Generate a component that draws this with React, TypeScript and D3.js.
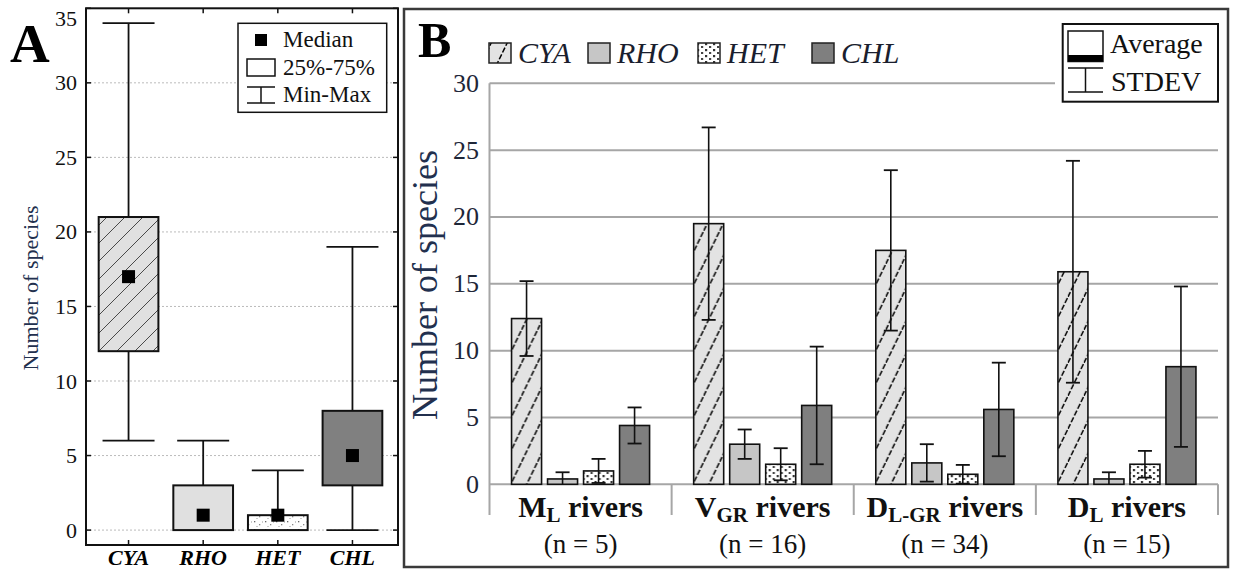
import React from "react";
import * as d3 from "d3";

// panel A: box plot of species numbers
const boxCats = ["CYA", "RHO", "HET", "CHL"];
const boxMin = [6, 0, 0, 0];
const boxQ1 = [12, 0, 0, 3];
const boxMedian = [17, 1, 1, 5];
const boxQ3 = [21, 3, 1, 8];
const boxMax = [34, 6, 4, 19];
const boxTicks = [0, 5, 10, 15, 20, 25, 30, 35];

// panel B: averages and standard deviations per river group
const riverMain = ["M", "V", "D", "D"];
const riverSub = ["L", "GR", "L-GR", "L"];
const riverN = [5, 16, 34, 15];
const series = ["CYA", "RHO", "HET", "CHL"];
const avgCYA = [12.4, 19.5, 17.5, 15.9];
const sdCYA = [2.8, 7.2, 6.0, 8.3];
const avgRHO = [0.4, 3.0, 1.6, 0.4];
const sdRHO = [0.5, 1.1, 1.4, 0.5];
const avgHET = [1.0, 1.5, 0.75, 1.5];
const sdHET = [0.9, 1.2, 0.7, 1.0];
const avgCHL = [4.4, 5.9, 5.6, 8.8];
const sdCHL = [1.35, 4.4, 3.5, 6.0];
const barTicks = [0, 5, 10, 15, 20, 25, 30];

const serif = "Liberation Serif, Times New Roman, serif";
const navy = "#22304e";

const boxFill = ["url(#hatchA)", "#e0e0e0", "url(#speckA)", "#808080"];
const barFill = ["url(#hatchB)", "#c6c6c6", "url(#dotsB)", "#7f7f7f"];

export default function App() {
  // ---- panel A scales
  const frameA = { left: 86, right: 398, top: 8.3, bottom: 545 };
  const yA = d3.scaleLinear().domain([-1, 35]).range([frameA.bottom, frameA.top]);
  const xA = d3
    .scaleBand()
    .domain(boxCats)
    .range([frameA.left, 395])
    .paddingInner(0.2)
    .paddingOuter(0.17);
  const capA = 52;
  const medA = 13;

  // ---- panel B scales
  const plotB = { left: 489.5, right: 1218, top: 83.3, bottom: 484.3, axisEnd: 515 };
  const yB = d3.scaleLinear().domain([0, 30]).range([plotB.bottom, plotB.top]);
  const groups = riverMain.map((_, i) => i);
  const x0 = d3.scaleBand<number>().domain(groups).range([plotB.left, plotB.right]);
  const x1 = d3
    .scaleBand()
    .domain(series)
    .range([0, x0.bandwidth()])
    .paddingInner(1 / 6)
    .paddingOuter(0.6125);
  const avg = [avgCYA, avgRHO, avgHET, avgCHL];
  const sd = [sdCYA, sdRHO, sdHET, sdCHL];
  const capB = 14;

  const legendX = [489, 588, 698, 812];

  return (
    <svg
      width={1235}
      height={571}
      style={{ position: "absolute", left: 0, top: 0, background: "#fff", fontFamily: serif }}
    >
      <defs>
        <pattern id="hatchA" patternUnits="userSpaceOnUse" width={18} height={18}>
          <rect width={18} height={18} fill="#e0e0e0" />
          <path d="M0,18 L18,0 M-4.5,4.5 L4.5,-4.5 M13.5,22.5 L22.5,13.5" stroke="#222" strokeWidth={0.8} />
        </pattern>
        <pattern id="speckA" patternUnits="userSpaceOnUse" width={11} height={8}>
          <rect width={11} height={8} fill="#fff" />
          <rect x={1} y={1} width={1.3} height={1.3} fill="#666" />
          <rect x={6} y={4} width={1.3} height={1.3} fill="#888" />
          <rect x={9} y={1.5} width={1} height={1} fill="#999" />
          <rect x={3.5} y={6} width={1} height={1} fill="#999" />
        </pattern>
        <pattern id="hatchB" patternUnits="userSpaceOnUse" width={16} height={33}>
          <rect width={16} height={33} fill="#e3e3e3" />
          <path d="M0,33 L16,0" stroke="#000" strokeWidth={1.5} strokeDasharray="5.5 2" />
        </pattern>
        <pattern id="dotsB" patternUnits="userSpaceOnUse" width={8} height={6}>
          <rect width={8} height={6} fill="#fff" />
          <rect x={1} y={1} width={2.2} height={2.2} fill="#333" />
          <rect x={5} y={4} width={2.2} height={2.2} fill="#444" />
        </pattern>
      </defs>

      {/* ================= PANEL A ================= */}
      <text x={10} y={62} fontSize={55} fontWeight="bold" fill="#000">A</text>

      {boxTicks.slice(0, -1).map((t) => (
        <line key={t} x1={frameA.left} x2={frameA.right} y1={yA(t)} y2={yA(t)}
          stroke="#bbb" strokeWidth={1} strokeDasharray="2 2" />
      ))}
      {boxTicks.map((t) => (
        <g key={t}>
          <text x={77} y={Math.max(yA(t), 18)} textAnchor="end" dominantBaseline="central" fontSize={22} fill="#111">{t}</text>
          <line x1={frameA.left} x2={frameA.left + 5} y1={yA(t)} y2={yA(t)} stroke="#111" strokeWidth={1.5} />
          <line x1={frameA.right - 5} x2={frameA.right} y1={yA(t)} y2={yA(t)} stroke="#111" strokeWidth={1.5} />
        </g>
      ))}
      {boxCats.map((c) => {
        const cx = xA(c)! + xA.bandwidth() / 2;
        return (
          <g key={c}>
            <line x1={cx} x2={cx} y1={frameA.top} y2={frameA.top + 5} stroke="#111" strokeWidth={1.5} />
            <line x1={cx} x2={cx} y1={frameA.bottom - 5} y2={frameA.bottom} stroke="#111" strokeWidth={1.5} />
            <text x={cx} y={565} textAnchor="middle" fontSize={22} fontWeight="bold" fontStyle="italic" fill="#000">{c}</text>
          </g>
        );
      })}

      {boxCats.map((c, i) => {
        const bx = xA(c)!;
        const bw = xA.bandwidth();
        const cx = bx + bw / 2;
        return (
          <g key={c}>
            <line x1={cx} x2={cx} y1={yA(boxMax[i])} y2={yA(boxQ3[i])} stroke="#111" strokeWidth={1.8} />
            <line x1={cx} x2={cx} y1={yA(boxQ1[i])} y2={yA(boxMin[i])} stroke="#111" strokeWidth={1.8} />
            <line x1={cx - capA / 2} x2={cx + capA / 2} y1={yA(boxMax[i])} y2={yA(boxMax[i])} stroke="#111" strokeWidth={1.8} />
            <line x1={cx - capA / 2} x2={cx + capA / 2} y1={yA(boxMin[i])} y2={yA(boxMin[i])} stroke="#111" strokeWidth={1.8} />
            <rect x={bx} y={yA(boxQ3[i])} width={bw} height={yA(boxQ1[i]) - yA(boxQ3[i])}
              fill={boxFill[i]} stroke="#111" strokeWidth={2} />
            <rect x={cx - medA / 2} y={yA(boxMedian[i]) - medA / 2} width={medA} height={medA} fill="#000" />
          </g>
        );
      })}

      <rect x={frameA.left} y={frameA.top} width={frameA.right - frameA.left} height={frameA.bottom - frameA.top}
        fill="none" stroke="#111" strokeWidth={2} />

      <text transform="translate(38,288) rotate(-90)" textAnchor="middle" fontSize={22} fill={navy}>
        Number of species
      </text>

      {/* legend A */}
      <g>
        <rect x={238} y={23.3} width={148.7} height={89} fill="#fff" stroke="#111" strokeWidth={1.5} />
        <rect x={255} y={34} width={12} height={12} fill="#000" />
        <text x={283} y={47} fontSize={23} fill="#111">Median</text>
        <rect x={247} y={59} width={28} height={17} fill="#fff" stroke="#111" strokeWidth={1.5} />
        <text x={283} y={75} fontSize={23} fill="#111">25%-75%</text>
        <line x1={247} x2={275} y1={87} y2={87} stroke="#111" strokeWidth={1.5} />
        <line x1={247} x2={275} y1={103} y2={103} stroke="#111" strokeWidth={1.5} />
        <line x1={261} x2={261} y1={87} y2={103} stroke="#111" strokeWidth={1.5} />
        <text x={283} y={102} fontSize={23} fill="#111">Min-Max</text>
      </g>

      {/* ================= PANEL B ================= */}
      <rect x={404} y={9} width={824} height={558} fill="none" stroke="#3a3a3a" strokeWidth={2.5} />
      <text x={418} y={57} fontSize={50} fontWeight="bold" fill="#000">B</text>

      {barTicks.map((t) => (
        <g key={t}>
          <line x1={plotB.left} x2={plotB.right} y1={yB(t)} y2={yB(t)} stroke="#a6a6a6" strokeWidth={2} />
          <text x={479} y={yB(t)} textAnchor="end" dominantBaseline="central" fontSize={26} fill="#1e2638">{t}</text>
        </g>
      ))}
      <line x1={plotB.left} x2={plotB.left} y1={plotB.top} y2={plotB.axisEnd} stroke="#a6a6a6" strokeWidth={2} />
      {groups.map((g) => (
        <line key={g} x1={x0(g)! + x0.bandwidth()} x2={x0(g)! + x0.bandwidth()}
          y1={plotB.bottom} y2={plotB.axisEnd} stroke="#a6a6a6" strokeWidth={2} />
      ))}

      {groups.map((g) => (
        <g key={g} transform={`translate(${x0(g)},0)`}>
          {series.map((s, k) => {
            const v = avg[k][g];
            const e = sd[k][g];
            const bx = x1(s)!;
            const cx = bx + x1.bandwidth() / 2;
            const lo = Math.max(0, v - e);
            const hi = v + e;
            return (
              <g key={s}>
                <rect x={bx} y={yB(v)} width={x1.bandwidth()} height={yB(0) - yB(v)}
                  fill={barFill[k]} stroke="#111" strokeWidth={1.6} />
                <line x1={cx} x2={cx} y1={yB(hi)} y2={yB(lo)} stroke="#111" strokeWidth={1.6} />
                <line x1={cx - capB / 2} x2={cx + capB / 2} y1={yB(hi)} y2={yB(hi)} stroke="#111" strokeWidth={1.8} />
                {lo > 0 && (
                  <line x1={cx - capB / 2} x2={cx + capB / 2} y1={yB(lo)} y2={yB(lo)} stroke="#111" strokeWidth={1.8} />
                )}
              </g>
            );
          })}
        </g>
      ))}

      {groups.map((g) => {
        const cx = x0(g)! + x0.bandwidth() / 2;
        return (
          <g key={g}>
            <text x={cx} y={517} textAnchor="middle" fontSize={30} fontWeight="bold" fill="#111">
              {riverMain[g]}
              <tspan fontSize={21} dy={5}>{riverSub[g]}</tspan>
              <tspan dy={-5}>{" rivers"}</tspan>
            </text>
            <text x={cx} y={553} textAnchor="middle" fontSize={27} fill="#111">
              {`(n = ${riverN[g]})`}
            </text>
          </g>
        );
      })}

      <text transform="translate(437,285) rotate(-90)" textAnchor="middle" fontSize={36} fill={navy}>
        Number of species
      </text>

      {/* series legend */}
      {series.map((s, k) => (
        <g key={s}>
          <rect x={legendX[k]} y={43} width={22} height={20} fill={barFill[k]} stroke="#222" strokeWidth={1.5} />
          <text x={legendX[k] + 29} y={63} fontSize={30} fontStyle="italic" fill="#1a1e2e">{s}</text>
        </g>
      ))}

      {/* average / stdev legend */}
      <rect x={1055} y={18} width={170} height={88} fill="#fff" />
      <rect x={1062.7} y={24} width={155.3} height={77.7} fill="#fff" stroke="#111" strokeWidth={2} />
      <rect x={1068} y={31} width={35} height={30.5} fill="#fff" stroke="#111" strokeWidth={1.5} />
      <rect x={1068} y={55} width={35} height={6.5} fill="#000" />
      <text x={1110} y={53} fontSize={28} fill="#111">Average</text>
      <line x1={1068} x2={1103} y1={68} y2={68} stroke="#111" strokeWidth={1.5} />
      <line x1={1068} x2={1103} y1={92} y2={92} stroke="#111" strokeWidth={1.5} />
      <line x1={1085.5} x2={1085.5} y1={68} y2={92} stroke="#111" strokeWidth={1.5} />
      <text x={1111} y={91} fontSize={28} fill="#111">STDEV</text>
    </svg>
  );
}
